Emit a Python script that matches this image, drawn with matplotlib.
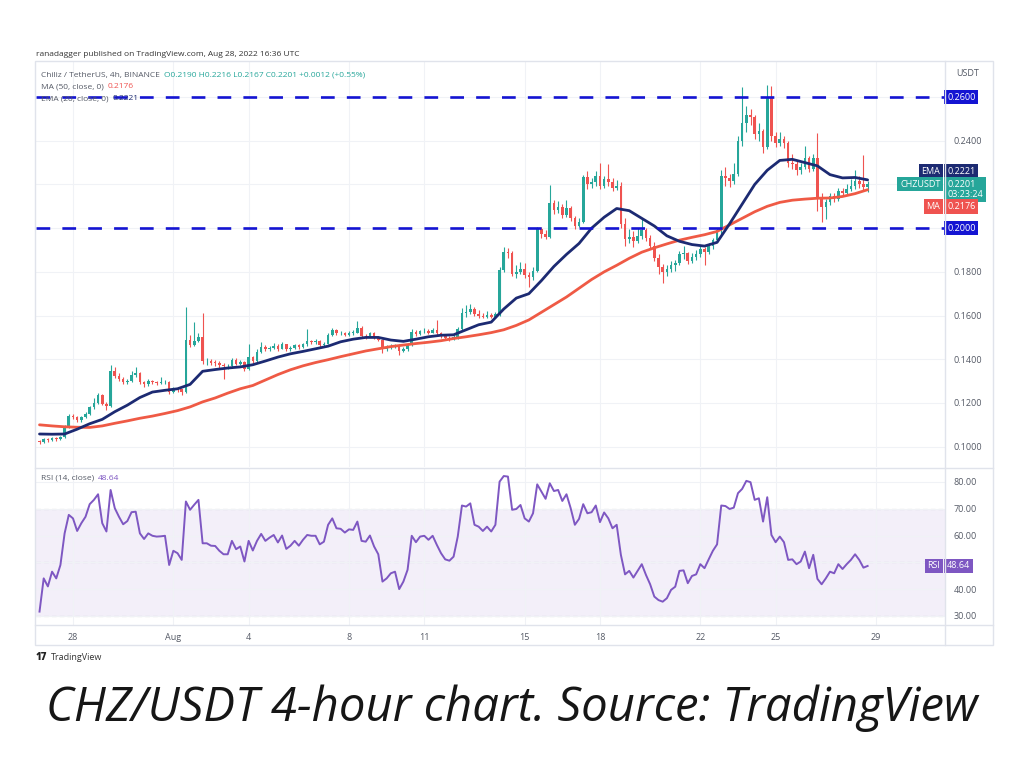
import matplotlib
matplotlib.use("Agg")
import matplotlib.pyplot as plt
from matplotlib.lines import Line2D
from matplotlib.patches import Rectangle
import numpy as np

plt.rcParams['font.family'] = ['Open Sans', 'DejaVu Sans']

# CHZ/USDT 4h candles, Jul 26 16:00 -> Aug 28 16:00 (index 0..198), one row per day
close = [
    0.1020, 0.1035,
    0.1030, 0.1040, 0.1035, 0.1045, 0.1090, 0.1140,
    0.1135, 0.1120, 0.1135, 0.1150, 0.1180, 0.1200,
    0.1235, 0.1195, 0.1185, 0.1345, 0.1325, 0.1310,
    0.1295, 0.1300, 0.1330, 0.1335, 0.1295, 0.1285,
    0.1300, 0.1295, 0.1293, 0.1295, 0.1298, 0.1250,
    0.1268, 0.1262, 0.1250, 0.1490, 0.1465, 0.1485,
    0.1500, 0.1390, 0.1390, 0.1385, 0.1383, 0.1375,
    0.1368, 0.1368, 0.1398, 0.1380, 0.1388, 0.1355,
    0.1410, 0.1390, 0.1435, 0.1455, 0.1445, 0.1452,
    0.1462, 0.1448, 0.1468, 0.1445, 0.1452, 0.1465,
    0.1455, 0.1468, 0.1482, 0.1478, 0.1482, 0.1465,
    0.1472, 0.1510, 0.1535, 0.1518, 0.1520, 0.1512,
    0.1522, 0.1522, 0.1545, 0.1508, 0.1505, 0.1518,
    0.1502, 0.1490, 0.1448, 0.1452, 0.1460, 0.1462,
    0.1438, 0.1446, 0.1465, 0.1525, 0.1515, 0.1528,
    0.1530, 0.1522, 0.1532, 0.1518, 0.1505, 0.1498,
    0.1495, 0.1502, 0.1540, 0.1610, 0.1615, 0.1630,
    0.1605, 0.1600, 0.1595, 0.1603, 0.1595, 0.1605,
    0.1810, 0.1890, 0.1885, 0.1790, 0.1800, 0.1815,
    0.1785, 0.1775, 0.1805, 0.1995, 0.1975, 0.1960,
    0.2115, 0.2085, 0.2095, 0.2060, 0.2090, 0.2045,
    0.2010, 0.2030, 0.2235, 0.2200, 0.2210, 0.2240,
    0.2195, 0.2225, 0.2210, 0.2185, 0.2195, 0.2020,
    0.1950, 0.1960, 0.1940, 0.1965, 0.1990, 0.1955,
    0.1920, 0.1865, 0.1820, 0.1800, 0.1815, 0.1830,
    0.1840, 0.1880, 0.1885, 0.1850, 0.1870, 0.1880,
    0.1905, 0.1890, 0.1920, 0.1945, 0.1990, 0.2240,
    0.2230, 0.2215, 0.2250, 0.2400, 0.2480, 0.2520,
    0.2510, 0.2430, 0.2445, 0.2370, 0.2600, 0.2420,
    0.2390, 0.2410, 0.2390, 0.2300, 0.2295, 0.2265,
    0.2280, 0.2320, 0.2270, 0.2320, 0.2140, 0.2095,
    0.2120, 0.2145, 0.2135, 0.2170, 0.2160, 0.2180,
    0.2195, 0.2215, 0.2200, 0.2190, 0.2201,
]
high = [
    0.1032, 0.1042,
    0.1042, 0.1046, 0.1045, 0.1050, 0.1100, 0.1148,
    0.1150, 0.1140, 0.1142, 0.1158, 0.1188, 0.1222,
    0.1245, 0.1240, 0.1205, 0.1375, 0.1365, 0.1335,
    0.1318, 0.1310, 0.1345, 0.1365, 0.1342, 0.1302,
    0.1310, 0.1306, 0.1302, 0.1318, 0.1306, 0.1302,
    0.1275, 0.1272, 0.1266, 0.1639, 0.1510, 0.1570,
    0.1520, 0.1610, 0.1405, 0.1400, 0.1395, 0.1392,
    0.1385, 0.1378, 0.1408, 0.1405, 0.1395, 0.1392,
    0.1470, 0.1415, 0.1445, 0.1480, 0.1465, 0.1460,
    0.1475, 0.1470, 0.1480, 0.1472, 0.1460, 0.1472,
    0.1472, 0.1475, 0.1540, 0.1490, 0.1492, 0.1488,
    0.1480, 0.1518, 0.1545, 0.1540, 0.1530, 0.1525,
    0.1530, 0.1535, 0.1575, 0.1550, 0.1515, 0.1525,
    0.1525, 0.1508, 0.1495, 0.1465, 0.1470, 0.1472,
    0.1468, 0.1455, 0.1470, 0.1540, 0.1535, 0.1535,
    0.1545, 0.1538, 0.1542, 0.1580, 0.1525, 0.1510,
    0.1505, 0.1510, 0.1548, 0.1635, 0.1650, 0.1655,
    0.1640, 0.1625, 0.1612, 0.1620, 0.1610, 0.1615,
    0.1820, 0.1915, 0.1910, 0.1895, 0.1830, 0.1845,
    0.1840, 0.1800, 0.1820, 0.2005, 0.2005, 0.1990,
    0.2197, 0.2130, 0.2125, 0.2110, 0.2130, 0.2100,
    0.2055, 0.2045, 0.2245, 0.2260, 0.2230, 0.2260,
    0.2300, 0.2240, 0.2295, 0.2230, 0.2220, 0.2210,
    0.2045, 0.1995, 0.1985, 0.2000, 0.2045, 0.2000,
    0.1970, 0.1935, 0.1880, 0.1835, 0.1830, 0.1850,
    0.1855, 0.1895, 0.1920, 0.1890, 0.1885, 0.1900,
    0.1920, 0.1915, 0.1930, 0.1955, 0.2000, 0.2265,
    0.2280, 0.2250, 0.2300, 0.2420, 0.2646, 0.2560,
    0.2545, 0.2520, 0.2480, 0.2455, 0.2655, 0.2650,
    0.2440, 0.2440, 0.2420, 0.2400, 0.2340, 0.2310,
    0.2300, 0.2375, 0.2330, 0.2340, 0.2435, 0.2160,
    0.2135, 0.2160, 0.2160, 0.2185, 0.2185, 0.2200,
    0.2225, 0.2265, 0.2240, 0.2334, 0.2216,
]
low = [
    0.1012, 0.1015,
    0.1022, 0.1025, 0.1028, 0.1030, 0.1040, 0.1085,
    0.1125, 0.1112, 0.1115, 0.1130, 0.1145, 0.1172,
    0.1195, 0.1190, 0.1170, 0.1180, 0.1315, 0.1300,
    0.1285, 0.1288, 0.1295, 0.1320, 0.1288, 0.1275,
    0.1278, 0.1288, 0.1284, 0.1285, 0.1288, 0.1240,
    0.1245, 0.1252, 0.1235, 0.1244, 0.1455, 0.1460,
    0.1478, 0.1380, 0.1375, 0.1372, 0.1370, 0.1362,
    0.1310, 0.1355, 0.1360, 0.1372, 0.1372, 0.1345,
    0.1350, 0.1382, 0.1385, 0.1430, 0.1438, 0.1440,
    0.1446, 0.1440, 0.1445, 0.1438, 0.1440, 0.1448,
    0.1448, 0.1450, 0.1462, 0.1470, 0.1472, 0.1458,
    0.1460, 0.1468, 0.1505, 0.1510, 0.1510, 0.1505,
    0.1508, 0.1512, 0.1518, 0.1502, 0.1495, 0.1500,
    0.1495, 0.1482, 0.1430, 0.1438, 0.1445, 0.1450,
    0.1420, 0.1432, 0.1440, 0.1460, 0.1508, 0.1510,
    0.1520, 0.1515, 0.1518, 0.1510, 0.1498, 0.1490,
    0.1485, 0.1490, 0.1495, 0.1535, 0.1595, 0.1605,
    0.1598, 0.1590, 0.1588, 0.1590, 0.1588, 0.1590,
    0.1600, 0.1800, 0.1865, 0.1780, 0.1770, 0.1790,
    0.1770, 0.1730, 0.1765, 0.1800, 0.1955, 0.1950,
    0.1955, 0.2065, 0.2070, 0.2045, 0.2050, 0.2035,
    0.1995, 0.2005, 0.2025, 0.2180, 0.2185, 0.2195,
    0.2180, 0.2185, 0.2195, 0.2170, 0.2175, 0.2000,
    0.1920, 0.1930, 0.1915, 0.1930, 0.1950, 0.1940,
    0.1905, 0.1850, 0.1790, 0.1750, 0.1780, 0.1800,
    0.1805, 0.1830, 0.1860, 0.1835, 0.1840, 0.1855,
    0.1870, 0.1830, 0.1880, 0.1905, 0.1935, 0.1975,
    0.2195, 0.2190, 0.2200, 0.2240, 0.2375, 0.2440,
    0.2470, 0.2410, 0.2400, 0.2345, 0.2360, 0.2400,
    0.2370, 0.2375, 0.2365, 0.2280, 0.2270, 0.2245,
    0.2250, 0.2270, 0.2255, 0.2260, 0.2080, 0.2028,
    0.2040, 0.2105, 0.2120, 0.2125, 0.2145, 0.2150,
    0.2170, 0.2180, 0.2185, 0.2175, 0.2167,
]
first_open = 0.1025
opens = [first_open] + close[:-1]   # each 4h bar opens at the previous close

# indicator lines, read every 3rd bar (index 0, 3, ..., 198)
line_idx = list(range(0, 199, 3))
ema20 = [
    0.1058, 0.1057, 0.1058, 0.1080, 0.1105, 0.1125, 0.1160, 0.1190, 0.1225, 0.1250,
    0.1258, 0.1265, 0.1285, 0.1345, 0.1353, 0.1360, 0.1365, 0.1375, 0.1392, 0.1410,
    0.1425, 0.1436, 0.1448, 0.1460, 0.1480, 0.1492, 0.1500, 0.1500, 0.1488, 0.1482,
    0.1492, 0.1503, 0.1510, 0.1512, 0.1535, 0.1558, 0.1570, 0.1630, 0.1680, 0.1700,
    0.1760, 0.1825, 0.1880, 0.1930, 0.2000, 0.2050, 0.2090, 0.2080, 0.2045, 0.2010,
    0.1965, 0.1940, 0.1925, 0.1918, 0.1935, 0.2020, 0.2110, 0.2200, 0.2265, 0.2310,
    0.2315, 0.2300, 0.2285, 0.2245, 0.2230, 0.2232, 0.2221,
]
ma50 = [
    0.1100, 0.1095, 0.1091, 0.1089, 0.1088, 0.1095, 0.1107, 0.1118, 0.1130, 0.1140,
    0.1152, 0.1165, 0.1182, 0.1205, 0.1223, 0.1245, 0.1265, 0.1280, 0.1305, 0.1330,
    0.1352, 0.1370, 0.1385, 0.1398, 0.1412, 0.1425, 0.1438, 0.1448, 0.1458, 0.1465,
    0.1472, 0.1478, 0.1485, 0.1495, 0.1503, 0.1512, 0.1522, 0.1535, 0.1555, 0.1580,
    0.1615, 0.1650, 0.1685, 0.1725, 0.1765, 0.1800, 0.1830, 0.1862, 0.1890, 0.1910,
    0.1928, 0.1945, 0.1958, 0.1970, 0.1985, 0.2015, 0.2045, 0.2075, 0.2100, 0.2118,
    0.2128, 0.2133, 0.2137, 0.2138, 0.2145, 0.2158, 0.2176,
]
rsi14 = [
    31.6, 44.0, 41.0, 46.5, 44.0, 49.0, 60.8, 67.7, 66.4, 61.7,
    64.6, 67.0, 71.7, 73.3, 75.4, 64.6, 61.5, 77.0, 70.2, 67.0,
    64.2, 65.4, 68.7, 68.9, 60.8, 58.7, 60.8, 59.9, 59.6, 59.7,
    59.9, 49.0, 54.3, 53.4, 50.9, 72.7, 69.6, 71.5, 73.3, 57.1,
    57.1, 56.2, 56.1, 54.3, 53.0, 53.0, 58.0, 54.9, 55.9, 50.3,
    58.0, 54.4, 58.0, 60.6, 58.0, 59.2, 60.2, 57.4, 60.0, 55.0,
    56.2, 58.0, 56.2, 58.4, 60.2, 59.9, 59.9, 56.7, 57.7, 64.0,
    66.4, 62.7, 62.5, 61.1, 62.3, 62.1, 65.2, 58.0, 57.7, 60.0,
    55.9, 53.0, 42.8, 44.0, 45.9, 46.5, 40.0, 42.8, 47.2, 59.9,
    57.5, 59.6, 59.9, 58.4, 59.9, 56.5, 53.4, 51.1, 50.6, 52.1,
    59.6, 71.2, 70.8, 72.0, 64.0, 63.3, 61.7, 63.3, 61.5, 64.0,
    80.1, 82.2, 82.0, 69.6, 69.9, 71.4, 66.4, 65.2, 68.3, 79.1,
    76.4, 73.7, 79.5, 76.6, 77.0, 72.9, 75.4, 70.2, 64.0, 66.2,
    71.7, 68.3, 68.7, 71.2, 65.0, 68.6, 66.4, 62.7, 64.0, 52.8,
    45.5, 46.8, 44.3, 46.8, 49.3, 45.3, 41.8, 37.2, 35.9, 35.3,
    36.6, 39.7, 40.9, 46.8, 47.0, 42.2, 44.9, 45.5, 49.3, 47.8,
    51.1, 54.3, 56.7, 71.2, 71.0, 69.9, 70.4, 75.8, 77.4, 80.4,
    79.9, 73.3, 73.9, 65.2, 74.3, 60.2, 57.5, 59.6, 57.5, 50.9,
    51.1, 49.3, 50.3, 54.0, 47.8, 52.8, 43.8, 41.8, 44.0, 46.5,
    45.9, 49.3, 47.5, 49.3, 50.9, 53.0, 50.9, 48.0, 48.64,
]

date_ticks = [8, 32, 50, 74, 92, 116, 134, 158, 176, 200]
date_labels = ["28", "Aug", "4", "8", "11", "15", "18", "22", "25", "29"]
price_grid = [0.10, 0.12, 0.14, 0.16, 0.18, 0.20, 0.22, 0.24, 0.26]
price_labels = ["0.1000", "0.1200", "0.1400", "0.1600", "0.1800", "", "", "0.2400", ""]
levels = [0.26, 0.20]
rsi_grid = [30, 40, 50, 60, 70, 80]
rsi_labels = ["30.00", "40.00", "", "60.00", "70.00", "80.00"]
last_price = 0.2201
ema_last, ma_last, rsi_last = 0.2221, 0.2176, 48.64

UP, DOWN = "#26a69a", "#ef5350"
EMA_C, MA_C, LEVEL_C, RSI_C = "#1c2a72", "#ef5a45", "#1414d2", "#7e57c2"
GRID_C, BORDER_C, TXT = "#f0f2f6", "#e0e3eb", "#555a66"

W, H = 1024, 780
fig = plt.figure(figsize=(W / 100, H / 100), dpi=100, facecolor="white")
fx = lambda px: px / W
fy = lambda py: 1 - py / H

ax = fig.add_axes([fx(36), fy(467), fx(945) - fx(36), fy(61) - fy(467)])
axr = fig.add_axes([fx(36), fy(625), fx(945) - fx(36), fy(468) - fy(625)], sharex=ax)
ax.patch.set_alpha(0)
axr.patch.set_alpha(0)

# candles
x = np.arange(len(close))
o, c, h, l = map(np.array, (opens, close, high, low))
cols = np.where(c >= o, UP, DOWN)
ax.vlines(x, l, h, colors=cols, lw=0.8, zorder=2)
ax.bar(x, np.maximum(np.abs(c - o), 0.0003), bottom=np.minimum(o, c), width=0.62,
       color=cols, lw=0, zorder=2)

ax.plot(line_idx, ma50, color=MA_C, lw=2.0, zorder=3, solid_capstyle="round")
ax.plot(line_idx, ema20, color=EMA_C, lw=2.0, zorder=4, solid_capstyle="round")
for lv in levels:
    ax.axhline(lv, color=LEVEL_C, lw=1.9, dashes=(5.2, 4.6), zorder=5)
ax.axhline(last_price, color=UP, lw=0.6, ls=(0, (1, 2)), zorder=1)

ax.set_xlim(-0.84, 216.5)
ax.set_ylim(0.0907, 0.2765)
ax.set_yticks(price_grid)
ax.set_yticklabels(price_labels)
ax.set_xticks(date_ticks)
ax.yaxis.tick_right()
ax.tick_params(axis="y", length=0, pad=6, labelsize=6.5, labelcolor=TXT)
ax.tick_params(axis="x", length=0, labelbottom=False)
ax.grid(True, color=GRID_C, lw=0.8, zorder=0)

# RSI pane
axr.axhspan(30, 70, color=RSI_C, alpha=0.09, lw=0, zorder=0)
for lv in (30, 50, 70):
    axr.axhline(lv, color="#a8a8b4", lw=0.8, dashes=(4, 3), zorder=1)
axr.plot(x, rsi14, color=RSI_C, lw=1.4, zorder=3)
axr.set_ylim(26.6, 85.2)
axr.set_yticks(rsi_grid)
axr.set_yticklabels(rsi_labels)
axr.set_xticks(date_ticks)
axr.set_xticklabels(date_labels)
axr.yaxis.tick_right()
axr.tick_params(axis="y", length=0, pad=6, labelsize=6.5, labelcolor=TXT)
axr.tick_params(axis="x", length=0, pad=6, labelsize=6.5, labelcolor=TXT)
axr.grid(True, color=GRID_C, lw=0.8, zorder=0)

for a in (ax, axr):
    for s in a.spines.values():
        s.set_visible(False)

# frame and separators
fig.add_artist(Rectangle((fx(35), fy(645)), fx(993) - fx(35), fy(61) - fy(645),
                         transform=fig.transFigure, fill=False, ec=BORDER_C, lw=1))
for py in (467.5, 625):
    fig.add_artist(Line2D([fx(35), fx(993)], [fy(py), fy(py)], color=BORDER_C, lw=1))
fig.add_artist(Line2D([fx(945), fx(945)], [fy(61), fy(645)], color=BORDER_C, lw=1))


def tag(a, val, text, fc, dy=0, name=False, fs=6.5, ls=1.0):
    a.annotate(text, xy=(1, val), xycoords=("axes fraction", "data"),
               xytext=(-3.3 if name else 1.5, dy), textcoords="offset points",
               ha="right" if name else "left", va="center", color="white",
               fontsize=fs, linespacing=ls, annotation_clip=False, zorder=10,
               bbox=dict(boxstyle="square,pad=0.3", fc=fc, ec="none"))


tag(ax, 0.26, "0.2600", LEVEL_C)
tag(ax, 0.20, "0.2000", LEVEL_C)
tag(ax, ema_last, "EMA", EMA_C, dy=6, name=True)
tag(ax, ema_last, "0.2221", EMA_C, dy=6)
tag(ax, last_price, "CHZUSDT", UP, dy=0, name=True)
tag(ax, last_price, "0.2201\n03:23:24", UP, dy=-3.8, ls=1.15)
tag(ax, ma_last, "MA", DOWN, dy=-12.2, name=True)
tag(ax, ma_last, "0.2176", DOWN, dy=-12.2)
tag(axr, rsi_last, "RSI", RSI_C, name=True)
tag(axr, rsi_last, "48.64", RSI_C)

fig.text(fx(968), fy(74), "USDT", ha="center", va="center", fontsize=6.5, color=TXT)


def chain(x0, y0, parts, fs=6.0):
    # consecutive coloured text pieces on one line
    t = fig.text(fx(x0), fy(y0), parts[0][0], color=parts[0][1], fontsize=fs, va="center")
    for s, col in parts[1:]:
        t = fig.add_artist(matplotlib.text.Annotation(
            s, xy=(1, 0.5), xycoords=t, xytext=(3, 0), textcoords="offset points",
            va="center", ha="left", color=col, fontsize=fs))


fig.text(fx(36), fy(55), "ranadagger published on TradingView.com, Aug 28, 2022 16:36 UTC",
         fontsize=6.0, color="#333333", va="center")
chain(41, 75, [("Chiliz / TetherUS, 4h, BINANCE", TXT),
               ("O0.2190 H0.2216 L0.2167 C0.2201 +0.0012 (+0.55%)", UP)])
chain(41, 87, [("MA (50, close, 0)", TXT), ("0.2176", DOWN)])
chain(41, 99, [("EMA (20, close, 0)", TXT), ("0.2221", EMA_C)])
chain(41, 478, [("RSI (14, close)", TXT), ("48.64", RSI_C)])

fig.text(fx(36), fy(658), "17", fontsize=7, fontweight="heavy", color="#222222", va="center")
fig.text(fx(51), fy(658), "TradingView", fontsize=6.5, color="#333333", va="center")

fig.text(0.5, fy(721), "CHZ/USDT 4-hour chart. Source: TradingView", ha="center",
         va="baseline", fontsize=34, style="italic", color="#161616")

fig.savefig("out.png", dpi=100, facecolor="white")
